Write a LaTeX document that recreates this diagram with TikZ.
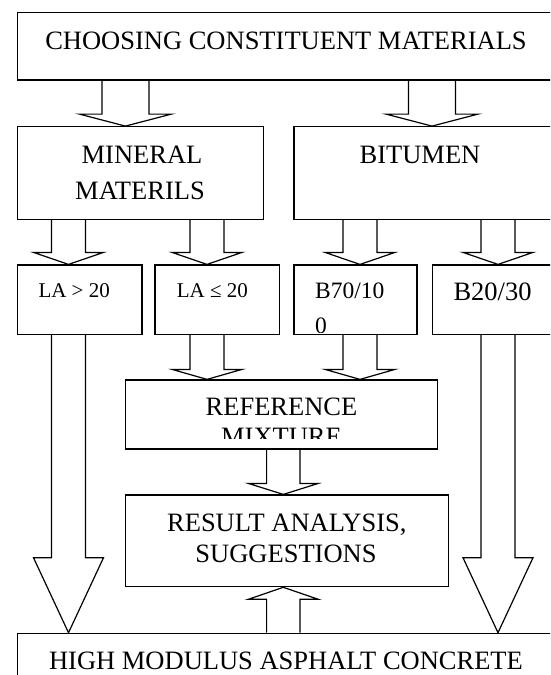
\documentclass[tikz,border=0pt]{standalone}
\usepackage{fontspec}
\setmainfont{Liberation Serif}
\usetikzlibrary{calc}

% hollow block arrow: x, from, to, half shaft, half head, head length
\newcommand{\hollowarrow}[6]{%
  \draw[arrowline] let \p1=(#2), \p2=(#3), \p3=($(#3)!#6pt!(#2 -| #3)$) in
    ({#1pt-#4pt},\y1) -- ({#1pt-#4pt},\y3) -- ({#1pt-#5pt},\y3) -- ({#1pt},\y2)
    -- ({#1pt+#5pt},\y3) -- ({#1pt+#4pt},\y3) -- ({#1pt+#4pt},\y1);}

\begin{document}
\begin{tikzpicture}[x=1pt,y=-1pt,
  box/.style={draw,line width=1.2pt,inner sep=0pt,rectangle},
  arrowline/.style={line width=1.2pt},
  big/.style={font=\fontsize{26.5}{31}\selectfont,inner sep=0pt,anchor=base},
  small/.style={font=\fontsize{21}{29}\selectfont,inner sep=0pt,anchor=base west}]
		\useasboundingbox (0,0) rectangle (550,675);
		\clip (0,0) rectangle (550,675);
		% boxes
		\node[box,minimum width=538.5,minimum height=67.7] (choose) at (286.75,46.15) {};
		\node[box,minimum width=246.3,minimum height=92.6] (mineral) at (140.65,173) {};
		\node[box,minimum width=262,minimum height=92.6] (bitumen) at (425,173) {};
		\node[box,minimum width=124.5,minimum height=69.3] (lagt) at (79.75,299.65) {};
		\node[box,minimum width=124.3,minimum height=69.3] (lale) at (217.15,299.65) {};
		\node[box,minimum width=123,minimum height=69.3] (bsoft) at (355.5,299.65) {};
		\node[box,minimum width=123.5,minimum height=69.3] (bhard) at (494.25,299.65) {};
		\node[box,minimum width=312.2,minimum height=69] (refmix) at (281.7,414.5) {};
		\node[box,minimum width=322.7,minimum height=91.7] (result) at (286.95,540.85) {};
		\node[box,minimum width=538.5,minimum height=67.7] (hmac) at (286.75,667.15) {};
		% texts
		\node[big] (t-choose) at (286,49.3) {CHOOSING CONSTITUENT MATERIALS};
		\node[big] (t-mineral) at (142,163.3) {MINERAL};
		\node[big] (t-materils) at (140,199) {MATERILS};
		\node[big] (t-bitumen) at (420,163.3) {BITUMEN};
		\node[small] (t-lagt) at (38.3,297.7) {LA > 20};
		\node[small] (t-lale) at (176.7,297.7) {LA ≤ 20};
		\node[small,font=\fontsize{26.5}{31}\selectfont] (t-bhard) at (453.3,300.7) {B20/30};
		\node[big] (t-reference) at (281.5,415) {REFERENCE};
		\node[big] (t-result) at (286.8,531) {RESULT ANALYSIS,};
		\node[big] (t-suggest) at (286,562.7) {SUGGESTIONS};
		\node[big] (t-hmac) at (286,669) {HIGH MODULUS ASPHALT CONCRETE};
		\begin{scope}
		\clip (bsoft.north west) rectangle ($(bsoft.south east)+(0,-2.5)$);
		\node[small,font=\fontsize{23.5}{31}\selectfont] (t-bsoft) at (315,298) {B70/10};
		\node[small,font=\fontsize{23.5}{31}\selectfont] (t-bsoft2) at (315,333) {0};
		\end{scope}
		\begin{scope}
		\clip (refmix.north west) rectangle ($(refmix.south east)+(0,-11)$);
		\node[big] (t-mixture) at (281.5,445.7) {MIXTURE};
		\end{scope}
		% arrows
		\foreach \ax/\src/\dst in {125.4/choose/mineral,432/choose/bitumen}
		\hollowarrow{\ax}{\src.south}{\dst.north}{23.5}{46}{12};
		\foreach \ax/\src/\dst in {68.5/mineral/lagt,207/mineral/lale,360/bitumen/bsoft,498/bitumen/bhard}
		\hollowarrow{\ax}{\src.south}{\dst.north}{17}{35}{12};
		\foreach \ax/\src in {207/lale,360/bsoft}
		\hollowarrow{\ax}{\src.south}{refmix.north}{17}{35}{10};
		\foreach \ax/\src in {68.5/lagt,498/bhard}
		\hollowarrow{\ax}{\src.south}{hmac.north}{17}{35}{75};
		\hollowarrow{283.3}{refmix.south}{result.north}{16.7}{35}{11}
		\hollowarrow{283.3}{hmac.north}{result.south}{16.7}{35}{12}
		\end{tikzpicture}
\end{document}
